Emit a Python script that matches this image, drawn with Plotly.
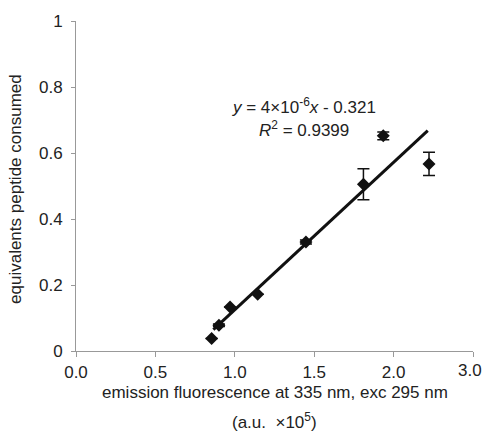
import plotly.graph_objects as go

# data
fluor = [0.854, 0.90, 0.97, 1.144, 1.448, 1.81, 1.935, 2.223]
equiv = [0.038, 0.078, 0.133, 0.172, 0.330, 0.505, 0.652, 0.567]
equiv_err = [0.0, 0.004, 0.0, 0.0, 0.006, 0.047, 0.012, 0.035]
trend_x = [0.865, 2.215]
trend_y = [0.065, 0.668]
x_tickvals = [0.0, 0.5, 1.0, 1.5, 2.0, 2.5]
x_ticktext = ["0.0", "0.5", "1.0", "1.5", "2.0", "3.0"]
y_tickvals = [0, 0.2, 0.4, 0.6, 0.8, 1.0]
y_ticktext = ["0", "0.2", "0.4", "0.6", "0.8", "1"]

FONT = "Liberation Sans, Arial, sans-serif"
INK = "#111111"
TXT = "#222222"

fig = go.Figure()
fig.add_trace(go.Scatter(
    x=trend_x, y=trend_y, mode="lines",
    line=dict(color=INK, width=3), showlegend=False, hoverinfo="skip"))
fig.add_trace(go.Scatter(
    x=fluor, y=equiv, mode="markers",
    marker=dict(symbol="diamond", size=10, color=INK),
    error_y=dict(type="data", array=equiv_err, visible=True,
                 color=INK, thickness=1.5, width=6),
    showlegend=False))

# the last x tick label sits at the right edge of the page; it is drawn as an
# annotation pulled slightly inward so that nothing overflows the window
last_label = x_ticktext[-1]
axis_ticktext = x_ticktext[:-1] + [""]

fig.update_layout(
    width=484, height=431,
    margin=dict(l=76, r=11, t=21, b=80),
    paper_bgcolor="white", plot_bgcolor="white",
    font=dict(family=FONT, size=17, color=TXT),
    xaxis=dict(range=[0, 2.5], tickvals=x_tickvals, ticktext=axis_ticktext,
               showgrid=False, zeroline=False, showline=True,
               linecolor="#999999", linewidth=1, ticks="outside",
               ticklen=5, tickcolor="#999999", tickfont=dict(size=17),
               ticklabelstandoff=1),
    yaxis=dict(range=[0, 1], tickvals=y_tickvals, ticktext=y_ticktext,
               showgrid=False, zeroline=False, showline=True,
               linecolor="#999999", linewidth=1, ticks="outside",
               ticklen=4, tickcolor="#999999", tickfont=dict(size=17),
               ticklabelstandoff=5),
    annotations=[
        dict(x=x_tickvals[-1], y=-0.058, xref="x", yref="paper",
             text=last_label, showarrow=False, font=dict(size=17),
             xanchor="right", yanchor="middle", xshift=10, borderpad=0),
        dict(x=1.436, y=0.741, xref="x", yref="y",
             text="<i>y</i> = 4×10<sup>-6</sup><i>x</i> - 0.321",
             showarrow=False, font=dict(size=17), xanchor="center", yanchor="middle"),
        dict(x=1.436, y=0.672, xref="x", yref="y",
             text="<i>R</i><sup>2</sup> = 0.9399",
             showarrow=False, font=dict(size=17), xanchor="center", yanchor="middle"),
        dict(x=-0.152, y=0.49, xref="paper", yref="paper",
             text="equivalents peptide consumed", textangle=-90,
             showarrow=False, font=dict(size=17), xanchor="center", yanchor="middle"),
        dict(x=0.5, y=-0.127, xref="paper", yref="paper",
             text="emission fluorescence at 335 nm, exc 295 nm",
             showarrow=False, font=dict(size=17), xanchor="center", yanchor="middle"),
        dict(x=0.5, y=-0.212, xref="paper", yref="paper",
             text="(a.u.  ×10<sup>5</sup>)",
             showarrow=False, font=dict(size=17), xanchor="center", yanchor="middle"),
    ],
)

# remove the browser's default 8px body margin so the figure fills the window
fig.write_html("out.html",
               config={"displayModeBar": False},
               post_script="document.body.style.margin='0';"
                           "document.body.style.overflow='hidden';")
